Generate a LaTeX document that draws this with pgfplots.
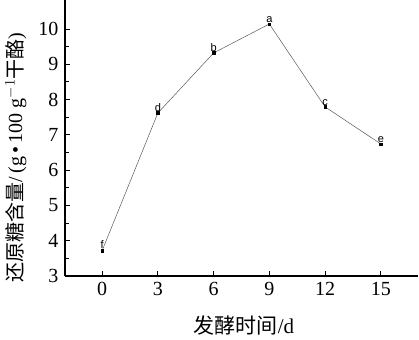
\documentclass[border=0pt]{standalone}
\usepackage{fontspec}
\setmainfont{Liberation Serif}
\newfontfamily\cjk{Noto Sans CJK SC}
\newfontfamily\arial{Liberation Sans}
\usepackage{pgfplots}
\pgfplotsset{compat=1.18}
\begin{document}
\begin{tikzpicture}
\begin{axis}[
  name=ax, scale only axis, width=353pt, height=276pt,
  xmin=-2, xmax=17, ymin=3, ymax=10.82,
  axis x line*=bottom, axis y line*=left,
  axis line style={-, line width=1.1pt},
  xtick={0,3,...,15}, ytick={3,...,10}, minor y tick num=1,
  tick align=inside, major tick length=5pt, minor tick length=3.5pt,
  tick style={line width=0.8pt, black},
  tick label style={font=\fontsize{20}{22}\selectfont},
  /pgf/number format/assume math mode=true,
  xticklabel style={yshift=-3pt}, yticklabel style={xshift=-3pt},
  clip=false,
  xlabel={\cjk 发酵时间\rmfamily/d},
  xlabel style={at={(axis description cs:0.507,0)}, anchor=center, yshift=-50pt, font=\fontsize{21}{23}\selectfont},
  ylabel={\cjk 还原糖含量\rmfamily/\,(g\,•\,100 g$^{-1}$\cjk 干酪\rmfamily)},
  ylabel style={at={(axis description cs:-0.139,0.429)}, anchor=center, rotate=0, inner sep=0pt, font=\fontsize{20}{22}\selectfont},
]
\addplot[gray!70!black, line width=0.5pt, mark=square*, mark size=1.2pt,
  mark options={black, fill=black},
  nodes near coords, point meta=explicit symbolic,
  every node near coord/.style={font=\arial\fontsize{11}{11}\selectfont, anchor=south, inner sep=1pt, yshift=0.5pt, black}]
  table[meta=l] {
x y l
0 3.72 f
3 7.62 d
6 9.32 b
9 10.14 a
12 7.79 c
15 6.74 e
};
\end{axis}
\pgfresetboundingbox
\path (-65pt,-63pt) rectangle (354pt,276pt);
\end{tikzpicture}
\end{document}
